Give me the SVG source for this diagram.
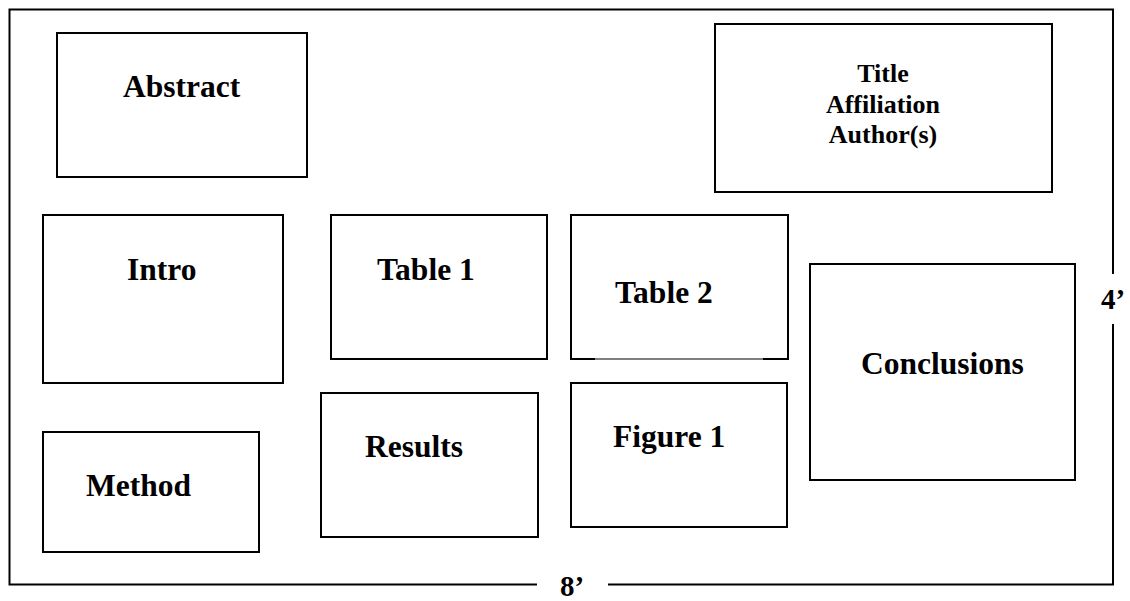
<svg xmlns="http://www.w3.org/2000/svg" width="1130" height="601" viewBox="0 0 1130 601">
<style>
.box{fill:none;stroke:#000;stroke-width:2}
.frame{fill:none;stroke:#000;stroke-width:2}
.lbl{font-family:"Liberation Serif","Times New Roman",serif;font-weight:bold;font-size:31.5px;fill:#000}
.sm{font-size:26px}
.dim{font-size:29px}
</style>
<rect width="1130" height="601" fill="#fff"/>
<g id="frame">
<path class="frame" d="M537,584.5 H9.5 V9.5 H1113 V274"/>
<path class="frame" d="M1113,324 V584.5 H608"/>
<text class="lbl dim" x="1113" y="309" text-anchor="middle">4’</text>
<text class="lbl dim" x="560" y="596">8’</text>
</g>
<g id="abstract">
<rect class="box" x="57" y="33" width="250" height="144"/>
<text class="lbl" x="123" y="97">Abstract</text>
</g>
<g id="title">
<rect class="box" x="715" y="24" width="337" height="168"/>
<text class="lbl sm" x="883" y="82" text-anchor="middle">Title</text>
<text class="lbl sm" x="883" y="113" text-anchor="middle">Affiliation</text>
<text class="lbl sm" x="883" y="143" text-anchor="middle">Author(s)</text>
</g>
<g id="intro">
<rect class="box" x="43" y="215" width="240" height="168"/>
<text class="lbl" x="127" y="280">Intro</text>
</g>
<g id="table1">
<rect class="box" x="331" y="215" width="216" height="144"/>
<text class="lbl" x="377" y="280">Table 1</text>
</g>
<g id="table2">
<path class="box" d="M595,359 H571 V215 H788 V359 H763"/>
<line x1="595" y1="359" x2="763" y2="359" stroke="#000" stroke-width="1.2"/>
<text class="lbl" x="615" y="303">Table 2</text>
</g>
<g id="conclusions">
<rect class="box" x="810" y="264" width="265" height="216"/>
<text class="lbl" x="861" y="374">Conclusions</text>
</g>
<g id="method">
<rect class="box" x="43" y="432" width="216" height="120"/>
<text class="lbl" x="86" y="496">Method</text>
</g>
<g id="results">
<rect class="box" x="321" y="393" width="217" height="144"/>
<text class="lbl" x="365" y="457">Results</text>
</g>
<g id="figure1">
<rect class="box" x="571" y="383" width="216" height="144"/>
<text class="lbl" x="613" y="447">Figure 1</text>
</g>
<g id="connectors"></g>
</svg>
